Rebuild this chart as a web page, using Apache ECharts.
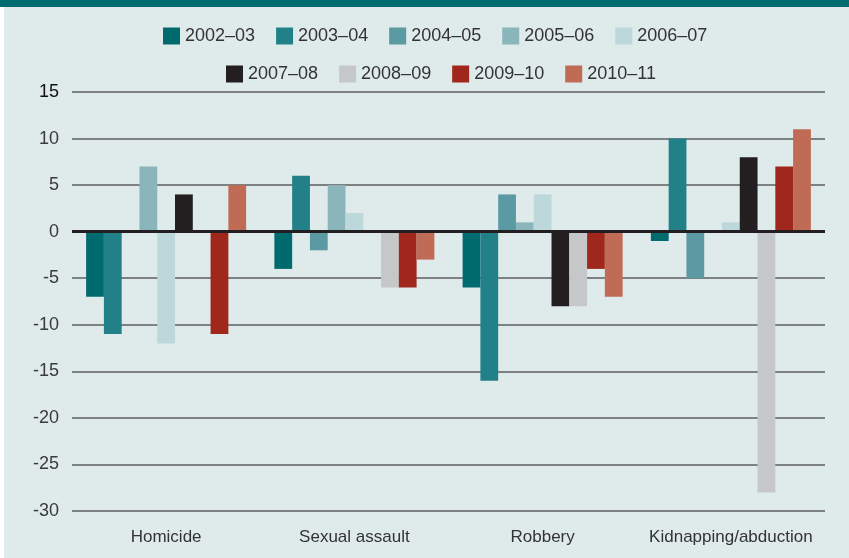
<!DOCTYPE html>
<html>
<head>
<meta charset="utf-8">
<title>Change by offence</title>
<script src="https://cdn.jsdelivr.net/npm/echarts@6/dist/echarts.min.js"></script>
<style>
  html, body { margin: 0; padding: 0; background: #fff; }
  #chart { width: 849px; height: 558px; }
</style>
</head>
<body>
<div id="chart"></div>
<script>
// categories / periods
var categories = ['Homicide', 'Sexual assault', 'Robbery', 'Kidnapping/abduction'];
var periods = ['2002–03', '2003–04', '2004–05', '2005–06', '2006–07', '2007–08', '2008–09', '2009–10', '2010–11'];
var colors = ['#006b6e', '#218088', '#5b9aa2', '#8ab6bb', '#bdd8db', '#231f20', '#c6c7c8', '#a0271c', '#bf6b55'];

// values per period, one per category
var v2002_03 = [-7, -4, -6, -1];
var v2003_04 = [-11, 6, -16, 10];
var v2004_05 = [0, -2, 4, -5];
var v2005_06 = [7, 5, 1, 0];
var v2006_07 = [-12, 2, 4, 1];
var v2007_08 = [4, 0, -8, 8];
var v2008_09 = [0, -6, -8, -28];
var v2009_10 = [-11, -6, -4, 7];
var v2010_11 = [5, -3, -7, 11];
var values = [v2002_03, v2003_04, v2004_05, v2005_06, v2006_07, v2007_08, v2008_09, v2009_10, v2010_11];

var yTicks = { min: -30, max: 15, step: 5 };

var FONT = '"Liberation Sans", Arial, sans-serif';

var series = periods.map(function (p, i) {
  var s = {
    name: p,
    type: 'bar',
    data: values[i],
    barGap: 0,
    barCategoryGap: '15%',
    itemStyle: { color: colors[i] },
    emphasis: { disabled: true }
  };
  if (i === 0) {
    // zero line on top of the bars
    s.markLine = {
      silent: true,
      symbol: 'none',
      label: { show: false },
      lineStyle: { color: '#231f20', width: 3, type: 'solid' },
      data: [{ yAxis: 0 }],
      z: 10
    };
  }
  return s;
});

var legendBase = {
  orient: 'horizontal',
  itemWidth: 17,
  itemHeight: 17,
  itemGap: 21,
  padding: 0,
  icon: 'rect',
  selectedMode: false,
  textStyle: { fontFamily: FONT, fontSize: 18, color: '#333', padding: [0, 0, 0, 0] }
};

var option = {
  backgroundColor: '#dfeaeb',
  animation: false,
  graphic: [
    { type: 'rect', left: 0, top: 0, shape: { width: 849, height: 7 }, style: { fill: '#006b6f' }, z: 100 },
    { type: 'rect', left: 0, top: 7, shape: { width: 4, height: 551 }, style: { fill: '#ffffff' }, z: 100 }
  ],
  legend: [
    Object.assign({}, legendBase, { left: 163, top: 27, data: periods.slice(0, 5) }),
    Object.assign({}, legendBase, { left: 226, top: 65, data: periods.slice(5) })
  ],
  grid: { left: 72, right: 24, top: 92, bottom: 47 },
  xAxis: {
    type: 'category',
    data: categories,
    axisLine: { show: false },
    axisTick: { show: false },
    axisLabel: { interval: 0, fontFamily: FONT, fontSize: 17, color: '#333', margin: 18 }
  },
  yAxis: {
    type: 'value',
    min: yTicks.min,
    max: yTicks.max,
    interval: yTicks.step,
    axisLine: { show: false },
    axisTick: { show: false },
    splitLine: { lineStyle: { color: '#5e5e5e', width: 1.5 } },
    axisLabel: {
      fontFamily: FONT,
      fontSize: 18,
      color: '#3a3a3a',
      margin: 13,
      formatter: function (v) { return v === yTicks.max ? '{top|' + v + '}' : String(v); },
      rich: { top: { fontFamily: FONT, fontSize: 18, color: '#111' } }
    }
  },
  series: series
};

var chart = echarts.init(document.getElementById('chart'));
chart.setOption(option);
</script>
</body>
</html>
